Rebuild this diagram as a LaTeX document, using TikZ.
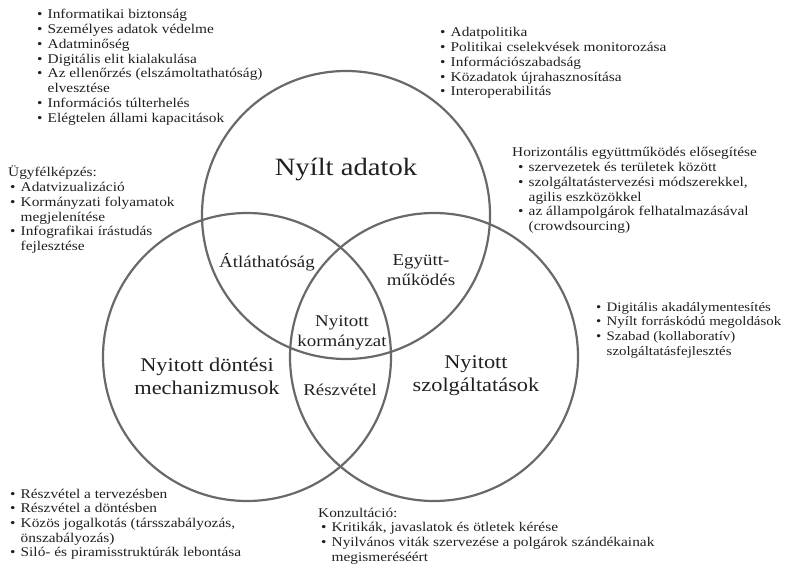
\documentclass[tikz,border=0pt]{standalone}
\usepackage{fontspec}
\setmainfont{Liberation Serif}[FakeStretch=1.15]
\definecolor{ring}{RGB}{105,105,105}
\definecolor{ink}{RGB}{35,31,32}
% bullet with a fixed-width slot, so that wrapped lines line up with the text
\newcommand{\itm}{\makebox[10.5bp][l]{\textbullet}}
\tikzset{
  set/.style={circle, draw=ring, line width=2.2bp, minimum size=288bp, inner sep=0pt},
  biglabel/.style={text=ink, align=center, inner sep=0pt,
    font=\fontsize{19.5}{23}\selectfont},
  toplabel/.style={text=ink, align=center, inner sep=0pt,
    font=\fontsize{25}{28}\selectfont},
  midlabel/.style={text=ink, align=center, inner sep=0pt,
    font=\fontsize{16.5}{19.5}\selectfont},
  notes/.style={text=ink, anchor=base west, inner sep=0pt,
    font=\fontsize{13.4}{14.8}\selectfont},
}
\begin{document}
\begin{tikzpicture}[x=1bp, y=-1bp]
\useasboundingbox (0,0) rectangle (787,569);

% the three sets
\node[set] (od) at (346,215) {};
\node[set] (dm) at (247,357) {};
\node[set] (sv) at (434,357) {};

% set names and overlaps
\node[toplabel] (odname) at (346,170) {Nyílt adatok};
\node[biglabel] (dmname) at (207,376) {Nyitott döntési\\mechanizmusok};
\node[biglabel] (svname) at (476,376) {Nyitott\\szolgáltatások};
\node[midlabel] (atl) at (267,262) {Átláthatóság};
\node[midlabel] (egy) at (421,270) {Együtt-\\működés};
\node[midlabel] (nyk) at (342,333) {Nyitott\\kormányzat};
\node[midlabel] (rv) at (340,390) {Részvétel};

% lists around the diagram
\node[notes] (l1) at (37,19) {\begin{tabular}[t]{@{}l@{}l@{}}
\itm & Informatikai biztonság\\
\itm & Személyes adatok védelme\\
\itm & Adatminőség\\
\itm & Digitális elit kialakulása\\
\itm & Az ellenőrzés (elszámoltathatóság)\\
     & elvesztése\\
\itm & Információs túlterhelés\\
\itm & Elégtelen állami kapacitások
\end{tabular}};

\node[notes] (l2) at (440,37) {\begin{tabular}[t]{@{}l@{}l@{}}
\itm & Adatpolitika\\
\itm & Politikai cselekvések monitorozása\\
\itm & Információszabadság\\
\itm & Közadatok újrahasznosítása\\
\itm & Interoperabilitás
\end{tabular}};

\node[notes] (l3) at (10,177) {\begin{tabular}[t]{@{}l@{}l@{}}
\multicolumn{2}{@{}l@{}}{\hspace*{-2bp}Ügyfélképzés:}\\
\itm & Adatvizualizáció\\
\itm & Kormányzati folyamatok\\
     & megjelenítése\\
\itm & Infografikai írástudás\\
     & fejlesztése
\end{tabular}};

\node[notes] (l4) at (518,157) {\begin{tabular}[t]{@{}l@{}l@{}}
\multicolumn{2}{@{}l@{}}{\hspace*{-6bp}Horizontális együttműködés elősegítése}\\
\itm & szervezetek és területek között\\
\itm & szolgáltatástervezési módszerekkel,\\
     & agilis eszközökkel\\
\itm & az állampolgárok felhatalmazásával\\
     & (crowdsourcing)
\end{tabular}};

\node[notes, font=\fontsize{13}{14.8}\selectfont] (l5) at (596,311) {\begin{tabular}[t]{@{}l@{}l@{}}
\itm & Digitális akadálymentesítés\\
\itm & Nyílt forráskódú megoldások\\
\itm & Szabad (kollaboratív)\\
     & szolgáltatásfejlesztés
\end{tabular}};

\node[notes] (l6) at (10,498) {\begin{tabular}[t]{@{}l@{}l@{}}
\itm & Részvétel a tervezésben\\
\itm & Részvétel a döntésben\\
\itm & Közös jogalkotás (társszabályozás,\\
     & önszabályozás)\\
\itm & Siló- és piramisstruktúrák lebontása
\end{tabular}};

\node[notes] (l7) at (321,517) {\begin{tabular}[t]{@{}l@{}l@{}}
\multicolumn{2}{@{}l@{}}{\hspace*{-3bp}Konzultáció:}\\
\itm & Kritikák, javaslatok és ötletek kérése\\
\itm & Nyilvános viták szervezése a polgárok szándékainak\\
     & megismeréséért
\end{tabular}};
\end{tikzpicture}
\end{document}
